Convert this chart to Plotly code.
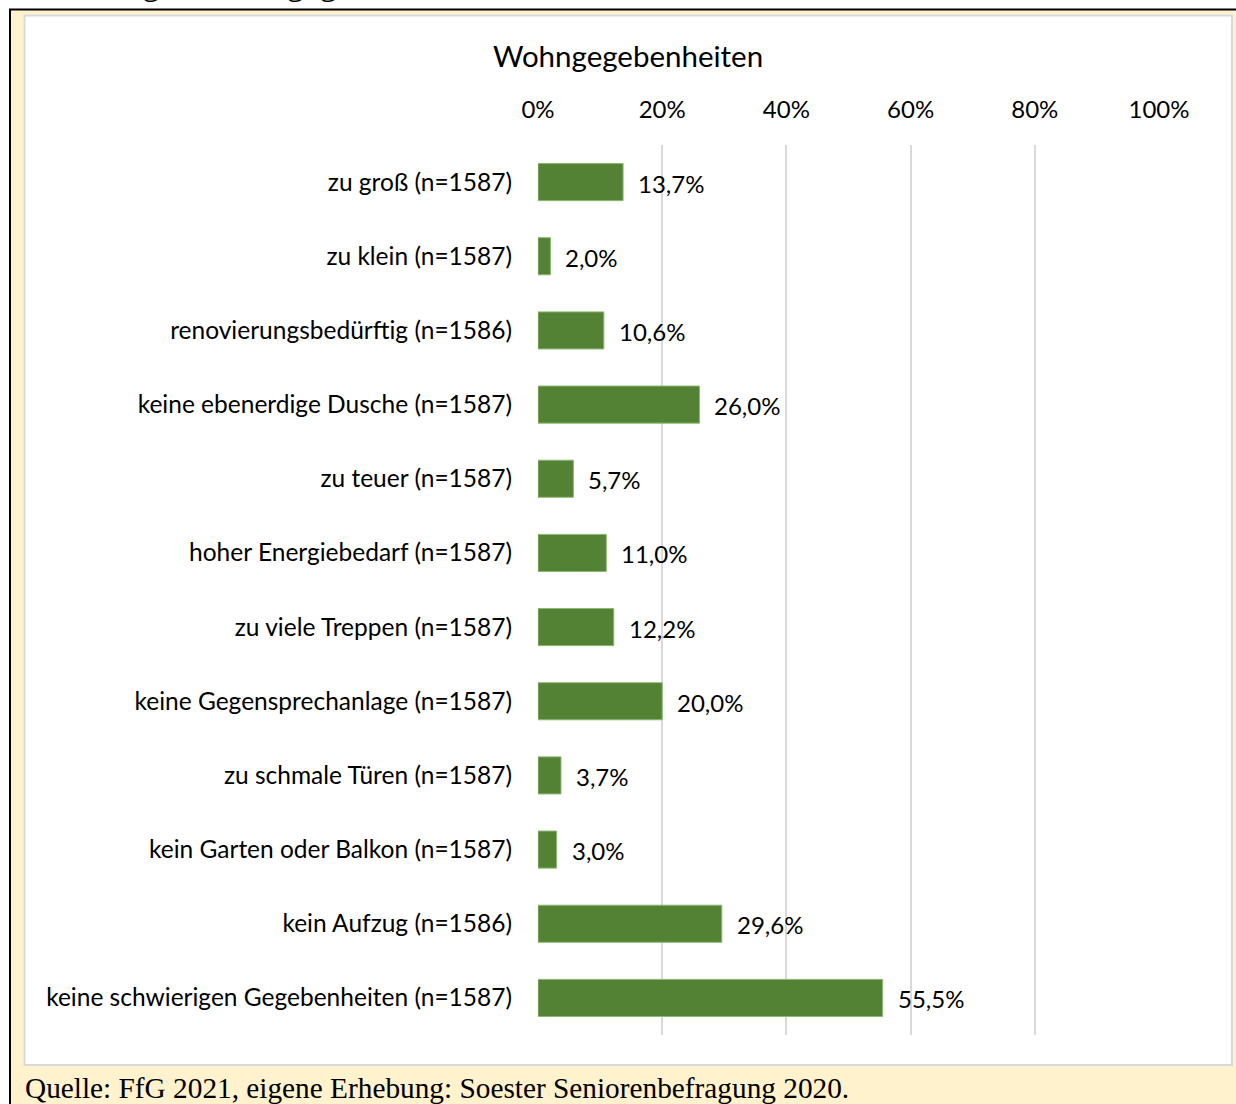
import plotly.graph_objects as go

categories = [
    "zu groß (n=1587)",
    "zu klein (n=1587)",
    "renovierungsbedürftig (n=1586)",
    "keine ebenerdige Dusche (n=1587)",
    "zu teuer (n=1587)",
    "hoher Energiebedarf (n=1587)",
    "zu viele Treppen (n=1587)",
    "keine Gegensprechanlage (n=1587)",
    "zu schmale Türen (n=1587)",
    "kein Garten oder Balkon (n=1587)",
    "kein Aufzug (n=1586)",
    "keine schwierigen Gegebenheiten (n=1587)",
]
values = [13.7, 2.0, 10.6, 26.0, 5.7, 11.0, 12.2, 20.0, 3.7, 3.0, 29.6, 55.5]
tick_vals = [0, 20, 40, 60, 80, 100]
tick_text = ["0%", "20%", "40%", "60%", "80%", "100%"]

W, H = 1236, 1104
L, R, T, B = 538, 1159, 145, 1035

def px(x):
    return (x - L) / (R - L)

def py(y):
    return (B - y) / (B - T)

FONT = "Lato, Carlito, Calibri, sans-serif"
SERIF = "Liberation Serif, Times New Roman, serif"

fig = go.Figure()
fig.add_trace(go.Bar(
    x=values,
    y=categories,
    orientation="h",
    width=0.5,
    marker=dict(color="#548235", line=dict(color="#8CB870", width=1)),
    hoverinfo="skip",
))

for c, v in zip(categories, values):
    fig.add_annotation(
        x=v, y=c, xref="x", yref="y",
        text=f"{v:.1f}".replace(".", ",") + "%",
        showarrow=False, xanchor="left", yanchor="middle", xshift=13, yshift=-1,
        font=dict(family=FONT, size=24, color="#000000"),
    )

shapes = [
    dict(type="rect", xref="paper", yref="paper", x0=px(-5), x1=px(W + 5), y0=py(9.5), y1=py(-5),
         fillcolor="white", line=dict(width=0), layer="below"),
    dict(type="rect", xref="paper", yref="paper", x0=px(-5), x1=px(9.5), y0=py(H + 5), y1=py(-5),
         fillcolor="white", line=dict(width=0), layer="below"),
    dict(type="line", xref="paper", yref="paper", x0=px(9), x1=px(W + 5), y0=py(9.5), y1=py(9.5),
         line=dict(color="black", width=2), layer="below"),
    dict(type="line", xref="paper", yref="paper", x0=px(10), x1=px(10), y0=py(9), y1=py(H + 5),
         line=dict(color="black", width=2), layer="below"),
    dict(type="rect", xref="paper", yref="paper", x0=px(24.5), x1=px(1232), y0=py(1065), y1=py(15.5),
         fillcolor="white", line=dict(color="#D9D9D9", width=2), layer="below"),
]

fig.add_annotation(
    xref="paper", yref="paper", x=px(628), y=py(56), text="Wohngegebenheiten",
    showarrow=False, xanchor="center", yanchor="middle",
    font=dict(family=FONT, size=29.5, color="#000000"),
)
fig.add_annotation(
    xref="paper", yref="paper", x=px(23), y=py(1088), text="Quelle: FfG 2021, eigene Erhebung: Soester Seniorenbefragung 2020.",
    showarrow=False, xanchor="left", yanchor="middle",
    font=dict(family=SERIF, size=29.3, color="#000000"),
)
fig.add_annotation(
    xref="paper", yref="paper", x=px(8), y=py(4), text="Abbildung 1: Wohngegebenheiten",
    showarrow=False, xanchor="left", yanchor="bottom",
    font=dict(family=SERIF, size=35, color="#000000"),
)

fig.update_layout(
    width=W, height=H,
    margin=dict(l=L, r=W - R, t=T, b=H - B, autoexpand=False),
    paper_bgcolor="#FFF2CC",
    plot_bgcolor="rgba(0,0,0,0)",
    shapes=shapes,
    showlegend=False,
    xaxis=dict(
        range=[0, 100], side="top", tickvals=tick_vals, ticktext=tick_text,
        showgrid=True, gridcolor="#D9D9D9", gridwidth=2, zeroline=False,
        showline=False, ticks="", ticklabelstandoff=21,
        tickfont=dict(family=FONT, size=24, color="#000000"),
    ),
    yaxis=dict(
        categoryorder="array", categoryarray=categories[::-1],
        showgrid=False, zeroline=False, showline=False, ticks="",
        ticklabelstandoff=25,
        tickfont=dict(family=FONT, size=24.5, color="#000000"),
    ),
)

fig.write_html(
    "out.html",
    config={"displayModeBar": False},
    post_script="document.body.style.margin='0';document.body.style.overflow='hidden';",
)
